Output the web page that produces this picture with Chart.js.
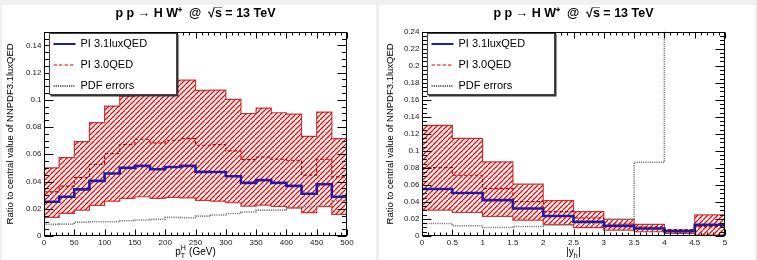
<!DOCTYPE html>
<html>
<head>
<meta charset="utf-8">
<script src="https://cdn.jsdelivr.net/npm/chart.js@4.4.0/dist/chart.umd.min.js"></script>
<style>
  body { margin: 0; background: #f0f0f0; width: 757px; height: 260px; position: relative; overflow: hidden; }
  .panel { position: absolute; background: #fff; }
  canvas { position: absolute; top: 0; }
</style>
</head>
<body>
<div class="panel" style="left:2px;top:5px;width:374px;height:255px"></div>
<div class="panel" style="left:379px;top:5px;width:376px;height:255px"></div>
<canvas id="ptChart" width="378" height="260" style="left:0"></canvas>
<canvas id="yChart" width="379" height="260" style="left:378px"></canvas>
<script>
const FONT = "'Liberation Sans', Arial, sans-serif";

// pT^H distribution, 25 GeV bins
const ptEdges = [0, 25, 50, 75, 100, 125, 150, 175, 200, 225, 250, 275, 300, 325, 350, 375, 400, 425, 450, 475, 500];
const ptUpper = [0.050, 0.0576, 0.0693, 0.0832, 0.0954, 0.1027, 0.1118, 0.1125, 0.1142, 0.1144, 0.1069, 0.1071, 0.1003, 0.0898, 0.0939, 0.0905, 0.0895, 0.0732, 0.0910, 0.0715];
const ptLower = [0.0137, 0.0166, 0.019, 0.0225, 0.0256, 0.0276, 0.0288, 0.0276, 0.0283, 0.028, 0.0261, 0.0256, 0.0244, 0.022, 0.0227, 0.0217, 0.0207, 0.0171, 0.0215, 0.0159];
const ptLux = [0.0251, 0.0288, 0.0342, 0.0405, 0.0459, 0.050, 0.0515, 0.049, 0.0507, 0.0515, 0.0471, 0.047, 0.0439, 0.039, 0.041, 0.039, 0.0368, 0.031, 0.038, 0.0288];
const ptQed = [0.0324, 0.0366, 0.043, 0.0525, 0.0605, 0.0671, 0.071, 0.0683, 0.0703, 0.0715, 0.0666, 0.0671, 0.0625, 0.0561, 0.058, 0.0563, 0.0556, 0.0447, 0.0563, 0.0434];
const ptPdf = [0.0085, 0.0087, 0.0102, 0.0105, 0.0105, 0.0112, 0.0117, 0.0122, 0.0137, 0.0134, 0.0146, 0.0154, 0.0165, 0.0176, 0.019, 0.019, 0.0205, 0.0215, 0.022, 0.026];
const ptXTicks = [0, 50, 100, 150, 200, 250, 300, 350, 400, 450, 500];
const ptYTicks = [0, 0.02, 0.04, 0.06, 0.08, 0.1, 0.12, 0.14];

// |y_h| distribution, 0.5 bins
const yEdges = [0, 0.5, 1, 1.5, 2, 2.5, 3, 3.5, 4, 4.5, 5];
const yUpper = [0.1300, 0.1148, 0.0870, 0.0609, 0.0415, 0.0286, 0.0196, 0.0137, 0.007, 0.0247];
const yLower = [0.0304, 0.0276, 0.0231, 0.0186, 0.0133, 0.0098, 0.007, 0.005, 0.0031, 0.001];
const yLux = [0.0552, 0.0505, 0.0421, 0.0323, 0.0235, 0.0168, 0.0119, 0.0088, 0.0055, 0.0133];
const yQed = [0.0803, 0.0713, 0.0556, 0.0405, 0.0286, 0.0212, 0.0141, 0.0106, 0.0075, 0.011];
const yPdf = [0.0147, 0.0121, 0.01, 0.0112, 0.0129, 0.0149, 0.0196, 0.0866, 0.3, 0.3];
const yXTicks = [0, 0.5, 1, 1.5, 2, 2.5, 3, 3.5, 4, 4.5, 5];
const yYTicks = [0, 0.02, 0.04, 0.06, 0.08, 0.1, 0.12, 0.14, 0.16, 0.18, 0.2, 0.22, 0.24];

const TITLE = 'p p \u2192 H W\u207A  @  \u221As\u0305 = 13 TeV';
const YTITLE = 'Ratio to central value of NNPDF3.1luxQED';

function hatch() {
  const c = document.createElement('canvas');
  c.width = 5; c.height = 5;
  const g = c.getContext('2d');
  g.strokeStyle = '#ff0000';
  g.lineWidth = 1.3;
  for (const k of [-5, 0, 5]) {
    g.beginPath(); g.moveTo(k, 5); g.lineTo(k + 5, 0); g.stroke();
  }
  return g.createPattern(c, 'repeat');
}

// bin edges + bin contents -> points for a stepped line (bin value at its left edge)
function histo(edges, vals) {
  return edges.map((x, i) => ({x, y: vals[Math.min(i, vals.length - 1)]}));
}

function tickMarks(scale, sub) {
  const vals = scale.ticks.map(t => t.value);
  const step = vals[1] - vals[0];
  const out = [];
  vals.forEach(v => {
    out.push([v, true]);
    for (let j = 1; j < sub; j++) {
      const m = v + step * j / sub;
      if (m < scale.max + 1e-9) out.push([m, false]);
    }
  });
  return out;
}

const rootFrame = {
  id: 'rootFrame',
  afterDatasetsDraw(chart) {
    const {ctx, chartArea: a, scales: {x, y}} = chart;
    const L = Math.round(a.left) + 0.5, R = Math.round(a.right) - 0.5;
    const T = Math.round(a.top) + 0.5, B = Math.round(a.bottom) - 0.5;
    ctx.save();
    ctx.strokeStyle = '#000';
    ctx.lineWidth = 1;
    ctx.beginPath();
    tickMarks(x, 5).forEach(([v, major]) => {
      const p = Math.round(x.getPixelForValue(v)) + 0.5;
      const len = major ? 6 : 3;
      ctx.moveTo(p, B); ctx.lineTo(p, B - len);
      ctx.moveTo(p, T); ctx.lineTo(p, T + len);
    });
    tickMarks(y, 4).forEach(([v, major]) => {
      const p = Math.round(y.getPixelForValue(v)) + 0.5;
      const len = major ? 9 : 4.5;
      ctx.moveTo(L, p); ctx.lineTo(L + len, p);
      ctx.moveTo(R, p); ctx.lineTo(R - len, p);
    });
    ctx.stroke();
    ctx.strokeRect(L, T, R - L, B - T);
    ctx.restore();
  }
};

const rootLegend = {
  id: 'rootLegend',
  afterDraw(chart) {
    const {ctx, chartArea: a} = chart;
    const bx = Math.round(a.left) + 5.5, by = Math.round(a.top) + 1.5, bw = 127, bh = 61;
    ctx.save();
    ctx.fillStyle = '#333';
    ctx.fillRect(bx + 1, by + 1, bw + 1, bh + 1);
    ctx.fillStyle = '#fff';
    ctx.fillRect(bx, by, bw, bh);
    ctx.strokeStyle = '#444';
    ctx.lineWidth = 1;
    ctx.strokeRect(bx, by, bw, bh);
    ctx.font = '11px ' + FONT;
    ctx.textBaseline = 'middle';
    chart.data.datasets.slice(0, 3).forEach((ds, i) => {
      const cy = by + 10.5 + i * 21;
      ctx.strokeStyle = ds.legendColor || ds.borderColor;
      ctx.lineWidth = Math.min(ds.borderWidth, 2);
      ctx.setLineDash(ds.borderDash || []);
      ctx.beginPath(); ctx.moveTo(bx + 4, cy); ctx.lineTo(bx + 26, cy); ctx.stroke();
      ctx.setLineDash([]);
      ctx.fillStyle = '#000';
      ctx.fillText(ds.label, bx + 31, cy);
    });
    ctx.restore();
  }
};

// x axis title with sub/superscripts
const xTitle = {
  id: 'xTitle',
  afterDraw(chart, args, opts) {
    const {ctx, chartArea: a} = chart;
    const big = '10px ' + FONT, small = '7px ' + FONT;
    ctx.save();
    ctx.fillStyle = '#000';
    ctx.textBaseline = 'alphabetic';
    const w = opts.parts.reduce((s, p) => {
      if (p.t) { ctx.font = big; return s + ctx.measureText(p.t).width; }
      ctx.font = small;
      return s + Math.max(ctx.measureText(p.sup || '').width, ctx.measureText(p.sub || '').width) + 0.5;
    }, 0);
    let xp = (a.left + a.right) / 2 - w / 2;
    const base = 255;
    opts.parts.forEach(p => {
      if (p.t) {
        ctx.font = big; ctx.fillText(p.t, xp, base); xp += ctx.measureText(p.t).width;
      } else {
        ctx.font = small;
        if (p.sup) ctx.fillText(p.sup, xp, base - 5);
        if (p.sub) ctx.fillText(p.sub, xp, base + 2.5);
        xp += Math.max(ctx.measureText(p.sup || '').width, ctx.measureText(p.sub || '').width) + 0.5;
      }
    });
    ctx.restore();
  }
};

function makeChart(id, cfg) {
  const bandColor = 'rgba(180,10,10,0.8)';
  const tickFont = {family: FONT, size: 8};
  return new Chart(document.getElementById(id), {
    type: 'line',
    data: {
      datasets: [
        {label: 'PI 3.1luxQED', data: histo(cfg.edges, cfg.lux), borderColor: '#1c1ca6', borderWidth: 2.6, stepped: 'before', fill: false},
        {label: 'PI 3.0QED', data: histo(cfg.edges, cfg.qed), borderColor: '#b00000', legendColor: '#e00000', borderWidth: 1.1, borderDash: [3.5, 2], stepped: 'before', fill: false},
        {label: 'PDF errors', data: histo(cfg.edges, cfg.pdf), borderColor: '#808080', legendColor: '#333', borderWidth: 1.6, borderDash: [1.2, 1], stepped: 'before', fill: false},
        {label: 'upper', data: histo(cfg.edges, cfg.upper), borderColor: bandColor, borderWidth: 1.2, stepped: 'before', fill: '+1', backgroundColor: hatch()},
        {label: 'lower', data: histo(cfg.edges, cfg.lower), borderColor: bandColor, borderWidth: 1.2, stepped: 'before', fill: false}
      ]
    },
    options: {
      responsive: false,
      animation: false,
      devicePixelRatio: 1,
      elements: {point: {radius: 0}},
      layout: {padding: {right: cfg.padRight}},
      plugins: {
        legend: {display: false},
        tooltip: {enabled: false},
        title: {
          display: true, text: TITLE, fullSize: false, color: '#000',
          font: {family: FONT, size: 12.5, weight: 'bold'},
          padding: {top: 6.5, bottom: 10.2}
        },
        xTitle: {parts: cfg.xTitle}
      },
      scales: {
        x: {
          type: 'linear', min: cfg.edges[0], max: cfg.edges[cfg.edges.length - 1],
          grid: {display: false, drawTicks: false}, border: {display: false},
          afterFit: s => { s.height = 24; },
          afterBuildTicks: s => { s.ticks = cfg.xTicks.map(v => ({value: v})); },
          ticks: {font: tickFont, color: '#222', padding: 1.5, maxRotation: 0, autoSkip: false,
            callback: v => String(+v.toFixed(2))}
        },
        y: {
          type: 'linear', min: 0, max: cfg.yMax,
          grid: {display: false, drawTicks: false}, border: {display: false},
          afterFit: s => { s.width = 44; },
          afterBuildTicks: s => { s.ticks = cfg.yTicks.map(v => ({value: v})); },
          ticks: {font: tickFont, color: '#222', padding: 2.5, autoSkip: false,
            callback: v => String(+v.toFixed(3))},
          title: {display: true, text: YTITLE, color: '#000', font: {family: FONT, size: 9.5},
            padding: {top: cfg.titlePad, bottom: 0}}
        }
      }
    },
    plugins: [rootFrame, rootLegend, xTitle]
  });
}

makeChart('ptChart', {
  edges: ptEdges, upper: ptUpper, lower: ptLower, lux: ptLux, qed: ptQed, pdf: ptPdf,
  xTicks: ptXTicks, yTicks: ptYTicks, yMax: 0.15, padRight: 31, titlePad: 4.3,
  xTitle: [{t: 'p'}, {sup: 'H', sub: 'T'}, {t: ' (GeV)'}]
});

makeChart('yChart', {
  edges: yEdges, upper: yUpper, lower: yLower, lux: yLux, qed: yQed, pdf: yPdf,
  xTicks: yXTicks, yTicks: yYTicks, yMax: 0.24, padRight: 32, titlePad: 6.3,
  xTitle: [{t: '|y'}, {sub: 'h'}, {t: '|'}]
});
</script>
</body>
</html>
